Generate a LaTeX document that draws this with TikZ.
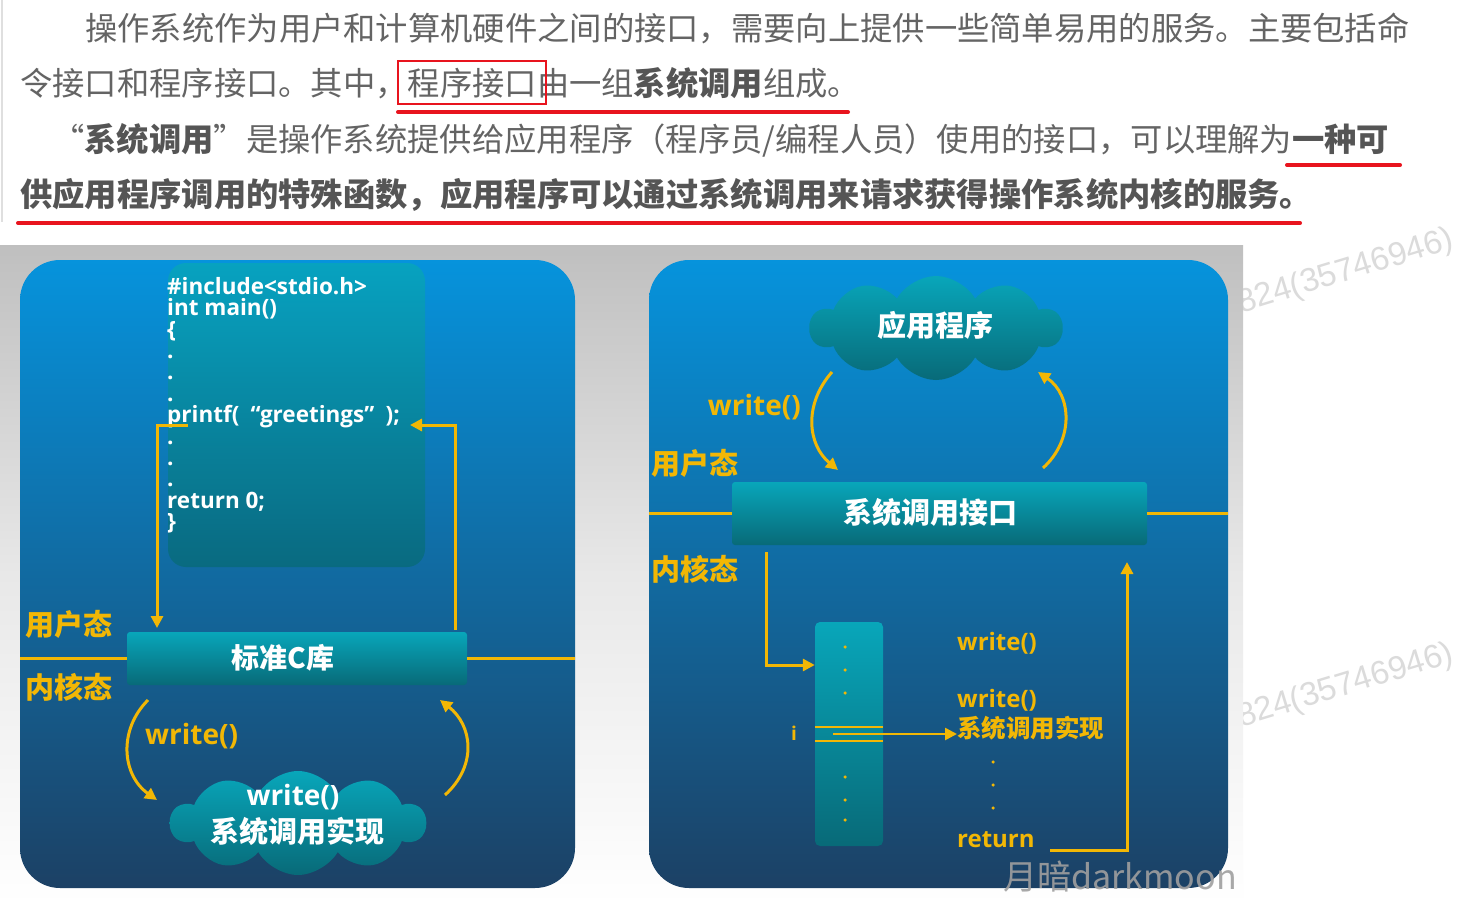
\documentclass[tikz,border=0pt]{standalone}
\usepackage{fontspec}
\setmainfont{Open Sans}
\newfontfamily\cjk{Noto Sans CJK SC}
\newfontfamily\lat{Open Sans}
\newfontfamily\wmfont{Liberation Sans}
\usetikzlibrary{shapes.symbols,arrows.meta,calc}
\newcommand\myfs[2]{\fontsize{#1pt}{#2pt}\selectfont}
\definecolor{ylw}{HTML}{F2B705}
\definecolor{txtgray}{HTML}{646464}
\definecolor{txtbold}{HTML}{555555}
\definecolor{redl}{HTML}{E8141E}
\definecolor{btop}{HTML}{0693DC}
\definecolor{bmid}{HTML}{14598B}
\definecolor{bbot}{HTML}{1C4165}
\definecolor{ttop}{HTML}{08A6BA}
\definecolor{tbot}{HTML}{086A78}
\begin{document}
\begin{tikzpicture}[x=1pt,y=-1pt,
  toptxt/.style={anchor=west, inner sep=0, text=txtgray, font=\cjk\myfs{32.3}{38}},
  redline/.style={draw=redl, line width=4pt, line cap=round},
  panel/.style={rounded corners=40pt, top color=btop, middle color=bmid, bottom color=bbot, draw=none, inner sep=0},
  tealbox/.style={top color=ttop, bottom color=tbot, draw=none, inner sep=0},
  yl/.style={draw=ylw, line width=3pt},
  yarr/.style={yl, -{Triangle[length=12pt,width=12pt]}},
  ylab/.style={text=ylw, font=\cjk\bfseries\myfs{29}{34}, inner sep=0},
  wlab/.style={text=white, font=\cjk\bfseries\myfs{29}{34}, inner sep=0},
  ylat/.style={text=ylw, font=\lat\bfseries\myfs{28}{34}, inner sep=0},
  wlat/.style={text=white, font=\lat\bfseries\myfs{28}{34}, inner sep=0},
  ydot/.style={fill=ylw, circle, inner sep=0, minimum size=3.5pt},
  wmark/.style={text=gray!28, font=\wmfont\myfs{33}{36}, inner sep=0, rotate=17, anchor=south west}
]
\useasboundingbox (0,0) rectangle (1471,912);
\fill[white] (0,0) rectangle (1471,912);

% ---------- top text ----------
\draw[gray!25, line width=2pt] (2,0) -- (2,222);
\node[toptxt] (l1) at (85,28) {操作系统作为用户和计算机硬件之间的接口，需要向上提供一些简单易用的服务。主要包括命};
\node[toptxt] (l2) at (20,83) {令接口和程序接口。其中，程序接口由一组{\bfseries\color{txtbold}系统调用}组成。};
\node[toptxt] (l3) at (52,140) {“{\bfseries\color{txtbold}系统调用}”是操作系统提供给应用程序（程序员/编程人员）使用的接口，可以理解为{\bfseries\color{txtbold}一种可}};
\node[toptxt, font=\cjk\bfseries\myfs{32.3}{38}, text=txtbold] (l4) at (20,195) {供应用程序调用的特殊函数，应用程序可以通过系统调用来请求获得操作系统内核的服务。};
\draw[draw=redl, line width=1.5pt] (398,61) rectangle (546,104);
\draw[redline] (398,112) -- (848,112);
\draw[redline] (1287,165) -- (1400,165);
\draw[redline] (18,223) -- (1300,223);

% ---------- watermarks behind ----------
\node[wmark] (wm1) at (1243,320) {824(35746946)};
\node[wmark] (wm2) at (1243,734) {824(35746946)};

% ---------- gray background ----------
\fill[top color=gray!50, bottom color=white, middle color=gray!18] (0,245) rectangle (1243,905);

% ---------- panels ----------
\node[panel, minimum width=555pt, minimum height=628pt] (lp) at (297.5,574) {};
\node[panel, minimum width=579pt, minimum height=628pt] (rp) at (938.5,574) {};

% ---------- left panel ----------
\node[tealbox, rounded corners=18pt, minimum width=257pt, minimum height=304pt, opacity=0.8] (codebox) at (296.5,415) {};
\node[anchor=north west, inner sep=0, align=left, text=white, font=\lat\bfseries\myfs{22.5}{21.4}] (code) at (167,277)
 {\#include<stdio.h>\\int main()\\\{\\.\\.\\.\\printf(\enspace“greetings”\enspace);\\.\\.\\.\\return 0;\\\}};
\node[tealbox, rounded corners=3pt, minimum width=340pt, minimum height=53pt] (lib) at (297,658.5) {};
\node[wlab, font=\cjk\bfseries\myfs{28}{32}] (libt) at (283,658) {标准C库};
\draw[yl] (lib.west) -- (lib.west -| lp.west);
\draw[yl] (lib.east) -- (lib.east -| lp.east);
\node[ylab, anchor=west] (us1) at (25,624) {用户态};
\node[ylab, anchor=west] (ks1) at (25,687) {内核态};

\coordinate (pl) at (188,425);
\coordinate (pr) at (410,425);
\draw[yarr] (pl) -- (157,425) -- (157,628);
\draw[yarr] (455,630) -- (455,425) -- (pr);

\node[cloud, cloud puffs=10, cloud puff arc=120, aspect=2.5, tealbox, minimum width=255pt, minimum height=104pt] (cl1) at (298,823) {};
\node[wlat] (cl1a) at (293,797) {write()};
\node[wlab] (cl1b) at (297,831) {系统调用实现};
\coordinate (a1s) at (148,700);
\coordinate (a1e) at (157,800);
\coordinate (a2s) at (445,795);
\coordinate (a2e) at (440,700);
\draw[yarr] (a1s) .. controls (118,730) and (122,775) .. (a1e);
\draw[yarr] (a2s) .. controls (478,765) and (472,725) .. (a2e);
\node[ylat, anchor=west] (w1) at (145,736) {write()};

% ---------- right panel ----------
\node[cloud, cloud puffs=10, cloud puff arc=120, aspect=2.4, tealbox, minimum width=252pt, minimum height=104pt] (app) at (936,328) {};
\node[wlab] (appt) at (935,325) {应用程序};
\coordinate (b1s) at (832,372);
\coordinate (b1e) at (838,470);
\coordinate (b2s) at (1043,468);
\coordinate (b2e) at (1038,372);
\draw[yarr] (b1s) .. controls (803,405) and (808,445) .. (b1e);
\draw[yarr] (b2s) .. controls (1074,440) and (1072,395) .. (b2e);
\node[ylat, anchor=east] (w2) at (801,407) {write()};
\node[ylab, anchor=west] (us2) at (651,463) {用户态};
\node[tealbox, rounded corners=3pt, minimum width=415pt, minimum height=63pt] (sci) at (939.5,513.5) {};
\node[wlab] (scit) at (930,512) {系统调用接口};
\draw[yl] (sci.west) -- (sci.west -| rp.west);
\draw[yl] (sci.east) -- (sci.east -| rp.east);
\node[ylab, anchor=west] (ks2) at (651,569) {内核态};

\node[tealbox, rounded corners=5pt, minimum width=68pt, minimum height=224pt] (tab) at (849,734) {};
\coordinate (c1) at (766,552);
\draw[yarr] (c1) -- (766,665) -- (tab.west |- 0,665);
\foreach \yy in {647,670,693,777,800,820} \node[ydot] at (845,\yy) {};
\draw[draw=ylw, line width=2.5pt] (tab.west |- 0,727) -- (tab.east |- 0,727);
\draw[draw=ylw, line width=2.5pt] (tab.west |- 0,741) -- (tab.east |- 0,741);
\node[ylat, font=\lat\bfseries\myfs{19}{24}] (ii) at (794,733) {i};
\node[ylab, anchor=west, font=\cjk\bfseries\myfs{24.5}{28}] (impl) at (957,728) {系统调用实现};
\coordinate (ia) at (833,734);
\draw[yarr, line width=2.5pt] (ia) -- (impl.west |- ia);
\node[ylat, anchor=west, font=\lat\bfseries\myfs{24}{28}] (wa) at (957,643) {write()};
\node[ylat, anchor=west, font=\lat\bfseries\myfs{24}{28}] (wb) at (957,700) {write()};
\foreach \yy in {762,785,808} \node[ydot] at (993,\yy) {};
\node[ylat, anchor=west, font=\lat\bfseries\myfs{24}{28}] (ret) at (957,840) {return};
\coordinate (r1) at (1050,850);
\draw[yarr] (r1) -- (1127,850) -- (1127,562);

% ---------- watermark ----------
\node[text=gray!75, opacity=0.9, font=\cjk\myfs{34}{38}, inner sep=0, anchor=west] (dm) at (1003,877) {月暗darkmoon};
\end{tikzpicture}
\end{document}
